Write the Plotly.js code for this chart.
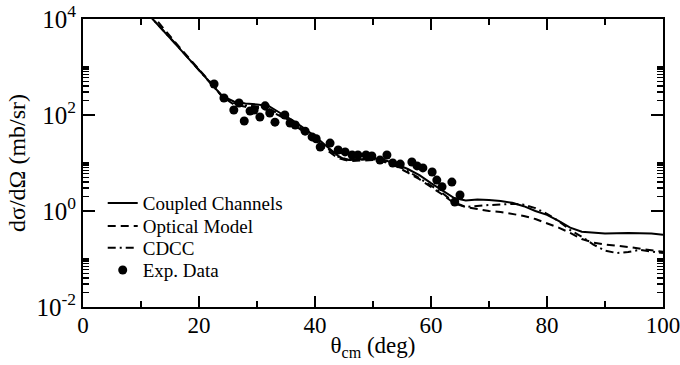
<!DOCTYPE html>
<html><head><meta charset="utf-8">
<script src="https://cdn.plot.ly/plotly-3.0.1.min.js"></script>
<style>html,body{margin:0;padding:0;background:#fff}#chart{width:680px;height:365px}</style>
</head><body><div id="chart"></div>
<script>
// Coupled Channels (solid)
const ccTheta = [11,12,16,20,22,24,26,28,30,32,34,36,38,40,42,44,45,46,48,50,52,54,56,58,60,62,64,66,68,70,72,74,76,78,80,82,84,86,88,90,94,98,100];
const ccSigma = [14000,10000,2950,851,468,251,191,174,166,155,110,79,54,36,22.4,14.1,12.0,11.5,12.0,12.6,11.5,9.5,7.5,5.6,3.8,2.63,1.86,1.66,1.74,1.70,1.62,1.48,1.26,1.0,0.83,0.62,0.45,0.37,0.35,0.34,0.35,0.34,0.32];
// Optical Model (dashed)
const omTheta = [11.5,12.5,16,20,22,24,26,28,30,32,34,36,38,40,42,44,46,48,50,52,54,56,58,60,62,64,66,68,70,72,74,76,78,80,82,84,86,88,90,94,98,100];
const omSigma = [14000,10000,3162,891,479,240,166,148,141,126,95,68,46,30,18.6,12.6,11.0,11.2,11.5,10.5,8.5,6.3,4.6,3.16,2.19,1.45,1.20,1.10,1.0,0.955,0.87,0.79,0.68,0.56,0.45,0.35,0.26,0.22,0.20,0.178,0.155,0.141];
// CDCC (dash-dot)
const cdccTheta = [11,12,16,20,22,24,26,28,30,32,34,36,38,40,42,44,46,48,50,52,54,56,58,60,62,64,66,68,70,72,74,76,78,80,82,84,86,88,90,92,94,96,98,100];
const cdccSigma = [14000,10000,3020,871,468,245,178,158,151,135,102,72,49,32,20.4,13.5,11.5,11.7,12.0,11.0,8.9,6.8,4.9,3.4,2.34,1.51,1.22,1.29,1.33,1.37,1.41,1.35,1.15,0.87,0.62,0.40,0.29,0.20,0.15,0.133,0.14,0.155,0.145,0.133];
// Experimental data
const expTheta = [22.6,24.3,26.0,26.9,27.8,28.8,29.5,30.5,31.4,32.2,33.1,34.8,35.7,36.6,38.3,39.5,40.2,40.9,42.6,44.0,45.2,46.4,47.4,48.8,49.8,51.2,52.4,53.4,54.7,56.7,57.6,58.6,60.2,61.0,61.9,63.6,64.1,65.0];
const expSigma = [443,226,127,178,75,121,127,91,155,110,71,100,68,62,46,35,32,21.5,26,18.7,17,14.7,14.7,14.7,14,11.5,14.7,10,9.5,10.5,8.7,7.9,6.5,4.4,3.2,4.0,1.54,2.15];

const xMajor = [0,20,40,60,80,100];
const xMinor = [10,30,50,70,90];
const yMajor = [0.01,1,100,10000];
const yMajorText = ['10<sup>-2</sup>','10<sup>0</sup>','10<sup>2</sup>','10<sup>4</sup>'];
const yMinor = [0.02,0.03,0.04,0.05,0.06,0.07,0.08,0.09,0.1,2,3,4,5,6,7,8,9,10,200,300,400,500,600,700,800,900,1000];

const serif = 'Liberation Serif, Times New Roman, serif';
const traces = [
  {x: expTheta, y: expSigma, mode:'markers', name:'Exp. Data', legend:'legend4',
   marker:{color:'#000', size:9, symbol:'circle'},
   error_x:{type:'constant', value:0.6, width:0, thickness:1.5, color:'#000'}},
  {x: ccTheta, y: ccSigma, mode:'lines', name:'Coupled Channels', legend:'legend',
   line:{color:'#000', width:2}},
  {x: omTheta, y: omSigma, mode:'lines', name:'Optical Model', legend:'legend2',
   line:{color:'#000', width:2, dash:'8px,5px'}},
  {x: cdccTheta, y: cdccSigma, mode:'lines', name:'CDCC', legend:'legend3',
   line:{color:'#000', width:2, dash:'8px,4px,2px,4px'}}
];
function leg(y){
  return {x:0.034, y:y, xanchor:'left', yanchor:'middle', bgcolor:'rgba(0,0,0,0)',
          font:{family:serif, size:19, color:'#000'}, tracegroupgap:0, itemwidth:30};
}
const layout = {
  width:680, height:365,
  margin:{l:83, r:17, t:19, b:58},
  paper_bgcolor:'#fff', plot_bgcolor:'#fff',
  font:{family:serif, color:'#000'},
  showlegend:true,
  legend:leg(0.361), legend2:leg(0.281), legend3:leg(0.205), legend4:leg(0.128),
  xaxis:{range:[0,100], tickmode:'array', tickvals:xMajor, ticks:'inside', ticklen:11, tickwidth:1.5, tickcolor:'#000',
         minor:{tickmode:'array', tickvals:xMinor, ticks:'inside', ticklen:6, tickwidth:1.5, tickcolor:'#000', showgrid:false},
         showline:true, linewidth:2, linecolor:'#000', mirror:'allticks', showgrid:false, zeroline:false,
         ticklabeloverflow:'allow', ticklabelstandoff:-4,
         tickfont:{family:serif, size:23, color:'#000'},
         title:{text:'θ<sub>cm</sub> (deg)', font:{family:serif, size:23, color:'#000'}, standoff:0}},
  yaxis:{type:'log', range:[-2,4], tickmode:'array', tickvals:yMajor, ticktext:yMajorText, ticks:'inside', ticklen:12, tickwidth:1.5, tickcolor:'#000',
         minor:{tickmode:'array', tickvals:yMinor, ticks:'inside', ticklen:6, tickwidth:1.5, tickcolor:'#000', showgrid:false},
         showline:true, linewidth:2, linecolor:'#000', mirror:'allticks', showgrid:false, zeroline:false,
         ticklabeloverflow:'allow',
         tickfont:{family:serif, size:25, color:'#000'},
         title:{text:'dσ/dΩ (mb/sr)', font:{family:serif, size:24, color:'#000'}, standoff:4}}
};
Plotly.newPlot('chart', traces, layout, {displayModeBar:false, staticPlot:true});
</script>
</body></html>
